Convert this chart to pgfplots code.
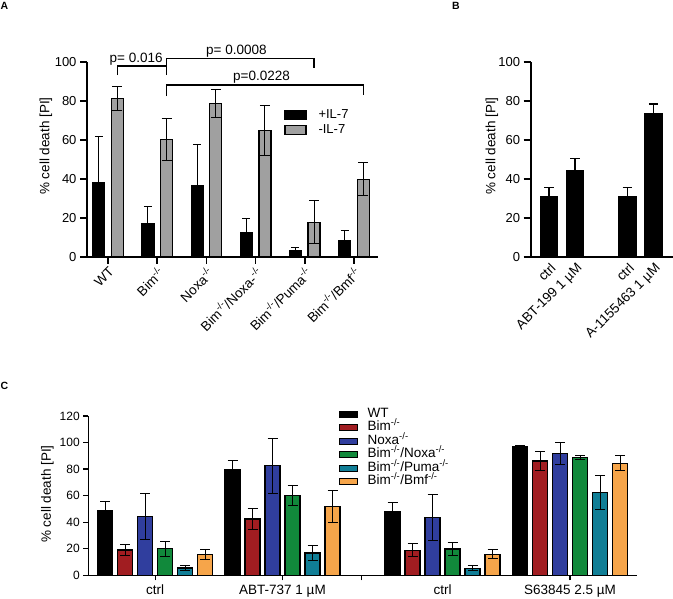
\documentclass[border=0pt]{standalone}
\usepackage{pgfplots}
\pgfplotsset{compat=1.18}
\usepackage{fontspec}
\setmainfont{Liberation Sans}
\newcommand{\ko}{\textsuperscript{-/-}}
\definecolor{cgray}{RGB}{160,160,160}
\definecolor{cred}{RGB}{161,29,33}
\definecolor{cblue}{RGB}{48,62,158}
\definecolor{cgreen}{RGB}{17,137,59}
\definecolor{cteal}{RGB}{16,126,150}
\definecolor{corange}{RGB}{246,165,74}
\pgfplotsset{
  base/.style={
    scale only axis, axis lines=left, axis line style={-, line width=1.6pt},
    tick align=outside, major tick length=7pt,
    every tick/.style={black, line width=1.6pt},
    /pgf/number format/assume math mode=true,
    clip=false, ymin=0,
    tick label style={font=\fontsize{13}{15}\selectfont},
    every axis y label/.style={rotate=90, anchor=center, font=\fontsize{13.5}{16}\selectfont},
    legend cell align=left,
  },
  errb/.style={/pgfplots/error bars/y dir=both, /pgfplots/error bars/y explicit,
    /pgfplots/error bars/error bar style={line width=1pt, black},
    /pgfplots/error bars/error mark options={rotate=90, mark size=#1, line width=1pt, black}},
  errp/.style={/pgfplots/error bars/y dir=plus, /pgfplots/error bars/y explicit,
    /pgfplots/error bars/error bar style={line width=1.3pt, black},
    /pgfplots/error bars/error mark options={rotate=90, mark size=#1, line width=1.3pt, black}},
}
\begin{document}
\begin{tikzpicture}
\path[use as bounding box] (0pt,0pt) rectangle (673pt,599pt);
\node[font=\bfseries\fontsize{10.5}{12}\selectfont] at (4.5pt,593pt) {A};
\node[font=\bfseries\fontsize{10.5}{12}\selectfont] at (456pt,593pt) {B};
\node[font=\bfseries\fontsize{10.5}{12}\selectfont] at (4.5pt,213pt) {C};

% ---------------- Panel A
\begin{axis}[base, at={(87pt,342pt)}, anchor=south west, width=291pt, height=195pt,
  xmin=-0.43, xmax=5.49, ymax=100, ytick={0,20,...,100},
  xtick={0,...,5},
  xticklabels={WT, Bim\ko, Noxa\ko, Bim\ko/Noxa-\ko, Bim\ko/Puma\ko, Bim\ko/Bmf\ko},
  xticklabel style={rotate=45, anchor=north east, inner sep=1pt, font=\fontsize{13.5}{16}\selectfont},
  ylabel={\% cell death [PI]}, ylabel style={at={(axis description cs:-0.141,0.569)}},
  legend style={at={(0.677,0.770)}, anchor=north west, draw=none, fill=none, inner sep=0pt,
    row sep=0pt, font=\fontsize{13}{15}\selectfont,
    nodes={inner xsep=12pt, inner ysep=1.25pt, text height=10pt, text depth=3pt},
    /tikz/column sep=0pt},
  legend image code/.code={\draw[#1, line width=1.3pt, draw=black] (0pt,-4.5pt) rectangle (21pt,4.5pt);},
]
\addplot[ybar, bar width=12pt, bar shift=0pt, fill=black, draw=black, line width=1.2pt, errb=4pt]
  table[x=x, y=y, y error=e] {
x y e
-0.19 38.1 23.8
0.81 17.3 8.6
1.81 36.7 20.8
2.81 12.5 7.4
3.81 3.4 1.4
4.81 8.6 5.1
};
\addlegendentry{+IL-7}
\addplot[ybar, bar width=12pt, bar shift=0pt, fill=cgray, draw=black, line width=1.2pt, errb=5pt]
  table[x=x, y=y, y error=e] {
x y e
0.19 81.3 6.0
1.19 60.4 10.8
2.19 78.7 7.0
3.19 65.0 12.7
4.19 17.8 11.0
5.19 39.8 8.5
};
\addlegendentry{-IL-7}
\draw[line width=1.4pt] (axis cs:0.19,93.3) -- (axis cs:0.19,97.9) -- (axis cs:1.19,97.9);
\draw[line width=1.4pt] (axis cs:1.19,93.3) -- (axis cs:1.19,101.7) -- (axis cs:4.19,101.7) -- (axis cs:4.19,96.7);
\draw[line width=1.4pt] (axis cs:1.19,82.5) -- (axis cs:1.19,88.2) -- (axis cs:5.19,88.2) -- (axis cs:5.19,83);
\node[anchor=base, inner sep=0pt, font=\fontsize{13.5}{16}\selectfont] at (axis cs:0.57,99.7) {p= 0.016};
\node[anchor=base, inner sep=0pt, font=\fontsize{13.5}{16}\selectfont] at (axis cs:2.61,104) {p= 0.0008};
\node[anchor=base, inner sep=0pt, font=\fontsize{13.5}{16}\selectfont] at (axis cs:3.12,90.6) {p=0.0228};
\end{axis}

% ---------------- Panel B
\begin{axis}[base, at={(530.7pt,342pt)}, anchor=south west, width=142.3pt, height=195pt,
  xmin=-0.70, xmax=4.75, ymax=100, ytick={0,20,...,100},
  xtick=\empty,
  extra x ticks={0,1,3,4},
  extra x tick labels={ctrl, ABT-199 1 µM, ctrl, A-1155463 1 µM},
  extra x tick style={tick style={draw=none},
    xticklabel style={rotate=45, anchor=north east, inner sep=1pt, yshift=2pt, xshift=3pt, font=\fontsize{13.5}{16}\selectfont}},
  ylabel={\% cell death [PI]}, ylabel style={at={(axis description cs:-0.272,0.569)}},
]
\addplot[ybar, bar width=17.6pt, bar shift=0pt, fill=black, draw=black, line width=1pt, errp=4.6pt]
  table[x=x, y=y, y error=e] {
x y e
0 30.9 4.9
1 44.1 6.3
3 30.9 4.9
4 73.4 5.0
};
\end{axis}

% ---------------- Panel C
\begin{axis}[base, at={(88.3pt,23.7pt)}, anchor=south west, width=548.4pt, height=159.3pt,
  xmin=-3.345, xmax=24.075, ymax=120, ytick={0,20,...,120},
  axis line style={line width=1.3pt}, every tick/.style={black, line width=1.3pt}, major tick length=5pt,
  tick label style={font=\fontsize{12}{14}\selectfont},
  xtick={0,6.365,10.325,20.74}, xticklabels={ctrl, ABT-737 1 µM, {}, S63845 2.5 µM},
  xticklabel style={font=\fontsize{13.5}{16}\selectfont, inner sep=1pt, yshift=-3.5pt},
  extra x ticks={14.365}, extra x tick labels={ctrl},
  extra x tick style={tick style={draw=none}},
  ylabel={\% cell death [PI]}, ylabel style={at={(axis description cs:-0.0744,0.51)}},
  legend style={at={(0.4559,1.055)}, anchor=north west, draw=none, fill=none, inner sep=0pt,
    row sep=0pt, font=\fontsize{13.5}{16}\selectfont,
    nodes={inner xsep=10pt, inner ysep=0.5pt, text height=9.5pt, text depth=3pt},
    /tikz/column sep=0pt},
  legend image code/.code={\draw[#1, line width=1.2pt, draw=black] (0pt,-3pt) rectangle (18pt,3pt);},
]
\addplot[ybar, bar width=15pt, bar shift=0pt, fill=black, draw=black, line width=1.3pt, errb=5pt]
  table[x=x, y=y, y error=e] {
x y e
-2.5 48.5 7.2
3.865 79.8 6.8
11.865 48.0 7.0
18.24 96.9 0.5
};
\addlegendentry{WT}
\addplot[ybar, bar width=15pt, bar shift=0pt, fill=cred, draw=black, line width=1.3pt, errb=5pt]
  table[x=x, y=y, y error=e] {
x y e
-1.5 19.1 4.0
4.865 42.4 8.1
12.865 18.8 5.0
19.24 86.1 6.8
};
\addlegendentry{Bim\ko}
\addplot[ybar, bar width=15pt, bar shift=0pt, fill=cblue, draw=black, line width=1.3pt, errb=5pt]
  table[x=x, y=y, y error=e] {
x y e
-0.5 44.2 17.5
5.865 82.6 20.7
13.865 43.7 17.3
20.24 91.9 8.2
};
\addlegendentry{Noxa\ko}
\addplot[ybar, bar width=15pt, bar shift=0pt, fill=cgreen, draw=black, line width=1.3pt, errb=5pt]
  table[x=x, y=y, y error=e] {
x y e
0.5 20.1 5.6
6.865 60.0 7.4
14.865 19.8 5.0
21.24 88.6 1.5
};
\addlegendentry{Bim\ko/Noxa\ko}
\addplot[ybar, bar width=15pt, bar shift=0pt, fill=cteal, draw=black, line width=1.3pt, errb=5pt]
  table[x=x, y=y, y error=e] {
x y e
1.5 5.5 1.9
7.865 16.8 5.9
15.865 5.3 1.9
22.24 62.3 13.1
};
\addlegendentry{Bim\ko/Puma\ko}
\addplot[ybar, bar width=15pt, bar shift=0pt, fill=corange, draw=black, line width=1.3pt, errb=5pt]
  table[x=x, y=y, y error=e] {
x y e
2.5 15.6 3.5
8.865 51.7 11.9
16.865 15.8 3.5
23.24 84.4 5.7
};
\addlegendentry{Bim\ko/Bmf\ko}
\end{axis}
\end{tikzpicture}
\end{document}
